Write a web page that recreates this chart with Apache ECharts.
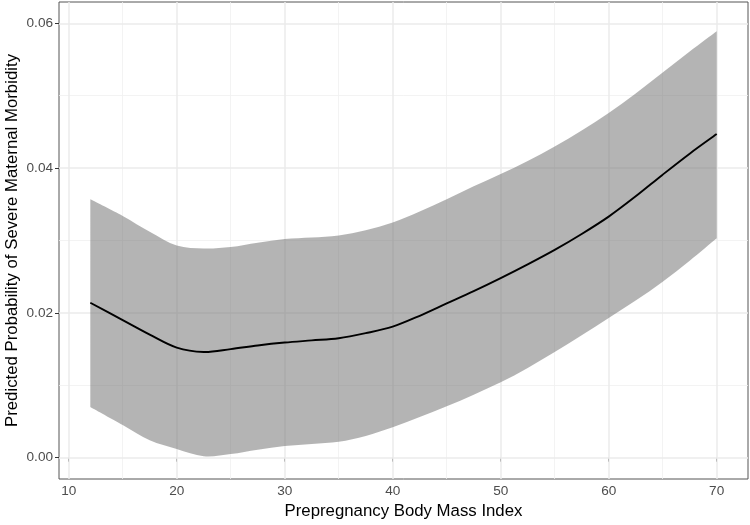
<!DOCTYPE html>
<html>
<head>
<meta charset="utf-8">
<script src="https://cdn.jsdelivr.net/npm/echarts@6/dist/echarts.min.js"></script>
<style>
html,body{margin:0;padding:0;background:#fff;}
#chart{width:750px;height:525px;}
</style>
</head>
<body>
<div id="chart"></div>
<script>
// ---- data ----
const bmi   = [12, 15, 17.5, 20, 22.5, 25, 27.5, 30, 32.5, 35, 37.5, 40, 42.5, 45, 47.5, 50, 52.5, 55, 57.5, 60, 62.5, 65, 67.5, 70];
const fit   = [0.0214, 0.0190, 0.0170, 0.0152, 0.0146, 0.0150, 0.0155, 0.0159, 0.0162, 0.0165, 0.0172, 0.0181, 0.0196, 0.0213, 0.0230, 0.0248, 0.0267, 0.0287, 0.0309, 0.0333, 0.0361, 0.0391, 0.0420, 0.0447];
const upper = [0.0357, 0.0334, 0.0312, 0.0293, 0.0289, 0.0291, 0.0297, 0.0302, 0.0304, 0.0307, 0.0314, 0.0325, 0.0340, 0.0357, 0.0375, 0.0392, 0.0410, 0.0430, 0.0452, 0.0476, 0.0503, 0.0532, 0.0561, 0.0589];
const lower = [0.0070, 0.0045, 0.0024, 0.0012, 0.0002, 0.0005, 0.0011, 0.0016, 0.0019, 0.0022, 0.0030, 0.0042, 0.0056, 0.0071, 0.0087, 0.0104, 0.0124, 0.0146, 0.0169, 0.0193, 0.0217, 0.0243, 0.0272, 0.0303];

const xTicks = [10, 20, 30, 40, 50, 60, 70];
const xMinor = [15, 25, 35, 45, 55, 65];
const yTicks = [0, 0.02, 0.04, 0.06];
const yMinor = [0.01, 0.03, 0.05];

const xTitle = 'Prepregnancy Body Mass Index';
const yTitle = 'Predicted Probability of Severe Maternal Morbidity';

// ---- chart ----
const majorStyle = {color: '#ebebeb', width: 1.5, type: 'solid'};
const minorStyle = {color: '#f0f0f0', width: 0.8, type: 'solid'};
const gridLines = []
  .concat(xMinor.map(v => ({xAxis: v, lineStyle: minorStyle})))
  .concat(yMinor.map(v => ({yAxis: v, lineStyle: minorStyle})))
  .concat(xTicks.map(v => ({xAxis: v, lineStyle: majorStyle})))
  .concat(yTicks.map(v => ({yAxis: v, lineStyle: majorStyle})));

const pairs = arr => bmi.map((x, i) => [x, arr[i]]);
const FONT = '"Liberation Sans", Arial, sans-serif';

// Catmull-Rom spline through pixel points -> cubic bezier path commands
function splineCmds(pts) {
  let d = '';
  const n = pts.length;
  for (let i = 0; i < n - 1; i++) {
    const p0 = pts[Math.max(0, i - 1)], p1 = pts[i], p2 = pts[i + 1], p3 = pts[Math.min(n - 1, i + 2)];
    const c1x = p1[0] + (p2[0] - p0[0]) / 6, c1y = p1[1] + (p2[1] - p0[1]) / 6;
    const c2x = p2[0] - (p3[0] - p1[0]) / 6, c2y = p2[1] - (p3[1] - p1[1]) / 6;
    d += ' C' + c1x + ' ' + c1y + ' ' + c2x + ' ' + c2y + ' ' + p2[0] + ' ' + p2[1];
  }
  return d;
}

function renderBand(params, api) {
  if (params.dataIndex !== 0) return null;
  const up = bmi.map((x, i) => api.coord([x, upper[i]]));
  const lo = bmi.map((x, i) => api.coord([x, lower[i]])).reverse();
  let d = 'M' + up[0][0] + ' ' + up[0][1] + splineCmds(up);
  d += ' L' + lo[0][0] + ' ' + lo[0][1] + splineCmds(lo) + ' Z';
  return {
    type: 'path',
    shape: {pathData: d},
    style: {fill: 'rgba(105,105,105,0.5)', stroke: null}
  };
}

function renderFit(params, api) {
  if (params.dataIndex !== 0) return null;
  const pts = bmi.map((x, i) => api.coord([x, fit[i]]));
  const d = 'M' + pts[0][0] + ' ' + pts[0][1] + splineCmds(pts);
  return {
    type: 'path',
    shape: {pathData: d},
    style: {fill: null, stroke: '#000000', lineWidth: 1.9, lineJoin: 'round'}
  };
}

const chart = echarts.init(document.getElementById('chart'), null, {renderer: 'canvas'});
chart.setOption({
  animation: false,
  backgroundColor: '#ffffff',
  grid: {left: 59, right: 2, top: 2, bottom: 46, outerBoundsMode: 'none', containLabel: false,
    show: true, borderColor: '#555555', borderWidth: 1, backgroundColor: 'transparent'},
  xAxis: {
    type: 'value', min: 9.1, max: 72.9,
    name: xTitle, nameLocation: 'middle', nameGap: 24, nameMoveOverlap: false,
    nameTextStyle: {fontFamily: FONT, fontSize: 16.8, color: '#000'},
    axisLine: {show: false},
    axisTick: {show: true, length: 4, lineStyle: {color: '#333', width: 1}, customValues: xTicks},
    axisLabel: {show: true, margin: 5, fontFamily: FONT, fontSize: 13.6, color: '#4d4d4d', customValues: xTicks,
      formatter: v => String(v)},
    splitLine: {show: false},
    minorSplitLine: {show: false}
  },
  yAxis: {
    type: 'value', min: -0.00295, max: 0.06295,
    name: yTitle, nameLocation: 'middle', nameGap: 38, nameMoveOverlap: false,
    nameTextStyle: {fontFamily: FONT, fontSize: 16.8, color: '#000'},
    axisLine: {show: false},
    axisTick: {show: true, length: 4, lineStyle: {color: '#333', width: 1}, customValues: yTicks},
    axisLabel: {show: true, margin: 6, fontFamily: FONT, fontSize: 13.6, color: '#4d4d4d', customValues: yTicks,
      formatter: v => Number(v).toFixed(2)},
    splitLine: {show: false}
  },
  series: [
    {
      type: 'line', name: 'gridlines', data: pairs(fit), symbol: 'none', silent: true, z: 1,
      lineStyle: {opacity: 0},
      markLine: {silent: true, z: 1, symbol: ['none', 'none'], label: {show: false}, animation: false, data: gridLines}
    },
    {
      type: 'custom', name: 'band', silent: true, z: 2,
      data: bmi.map((x, i) => [x, lower[i], upper[i]]),
      encode: {x: 0, y: [1, 2]},
      renderItem: renderBand
    },
    {
      type: 'custom', name: 'fit', silent: true, z: 3,
      data: pairs(fit),
      encode: {x: 0, y: 1},
      renderItem: renderFit
    }
  ]
});
</script>
</body>
</html>
